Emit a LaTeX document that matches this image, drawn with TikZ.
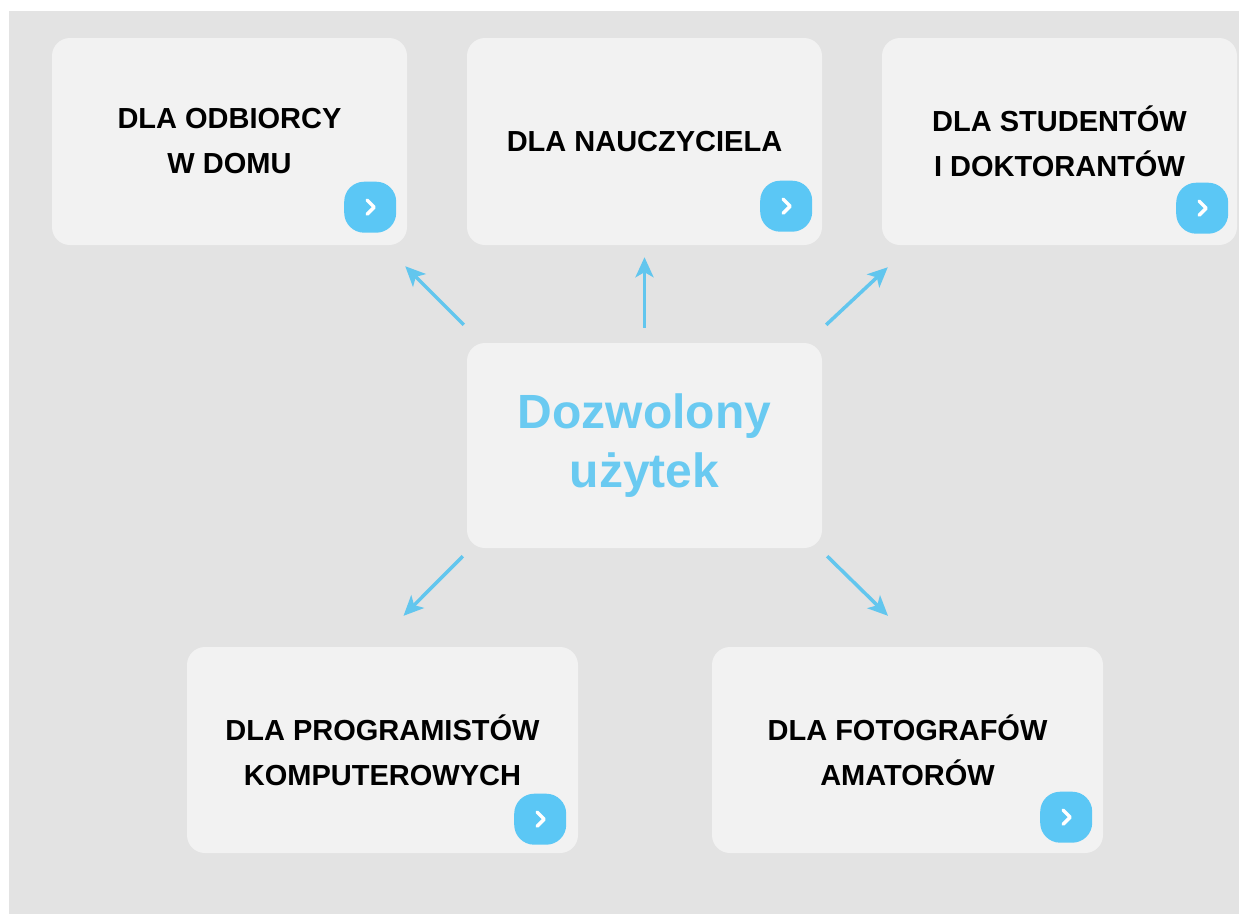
\documentclass[tikz,border=0pt]{standalone}
\usepackage{fontspec}
\setmainfont{Liberation Sans}
\newfontfamily\midfont{Liberation Sans}
\usetikzlibrary{arrows.meta,calc}

\definecolor{bggray}{HTML}{E3E3E3}
\definecolor{boxgray}{HTML}{F2F2F2}
\definecolor{skyblue}{HTML}{5BC7F5}
\definecolor{arrowblue}{HTML}{62C6EE}
\definecolor{textblue}{HTML}{6ACAF1}

\tikzset{
    card/.style={fill=boxgray, rounded corners=18pt, minimum width=355pt, minimum height=207pt,
        inner sep=0pt, align=center, font=\bfseries\fontsize{29}{45}\selectfont},
    widecard/.style={card, minimum width=391pt, minimum height=206pt},
    btn/.style={fill=skyblue, rounded corners=20pt, minimum width=52pt, minimum height=51pt, inner sep=0pt},
    chev/.style={white, line width=3.5pt, line cap=round, line join=round},
    link/.style={arrowblue, line width=3.5pt, -{Stealth[length=20pt,width=18pt,inset=5pt]}}
}

\newcommand{\drawchev}[1]{\draw[chev] ([shift={(-3,-7)}]#1.center) -- ([shift={(4,0)}]#1.center) -- ([shift={(-3,7)}]#1.center);}

\begin{document}
\begin{tikzpicture}[x=1pt, y=-1pt]
        \useasboundingbox (0,0) rectangle (1239,914);
        \fill[white] (0,0) rectangle (1239,914);
        \fill[bggray] (9,11) rectangle (1239,914);
        % cards
        \node[card] (odb) at (229.5,141.5) {DLA ODBIORCY\\W DOMU};
        \node[card] (nau) at (644.5,141.5) {DLA NAUCZYCIELA};
        \node[card] (stu) at (1059.5,141.5) {DLA STUDENTÓW\\I DOKTORANTÓW};
        \node[card, minimum height=205pt, text=textblue, font=\midfont\bfseries\fontsize{48}{59}\selectfont] (mid) at (644.5,445.5) {Dozwolony\\użytek};
        \node[widecard] (prog) at (382.5,750) {DLA PROGRAMISTÓW\\KOMPUTEROWYCH};
        \node[widecard] (foto) at (907.5,750) {DLA FOTOGRAFÓW\\AMATORÓW};
        % buttons
        \node[btn] (b_odb) at ([shift={(-37,-38)}]odb.south east) {};
        \node[btn] (b_nau) at ([shift={(-36,-39)}]nau.south east) {};
        \node[btn] (b_stu) at ([shift={(-35,-37)}]stu.south east) {};
        \node[btn] (b_prog) at ([shift={(-38,-34)}]prog.south east) {};
        \node[btn] (b_foto) at ([shift={(-37,-36)}]foto.south east) {};
        \drawchev{b_odb}
        \drawchev{b_nau}
        \drawchev{b_stu}
        \drawchev{b_prog}
        \drawchev{b_foto}
        % arrow ends
        \coordinate (t_odb) at ([shift={(-3,-18)}]mid.north west);
        \coordinate (h_odb) at ([shift={(-2,21)}]odb.south east);
        \coordinate (t_nau) at ([shift={(0,-15)}]mid.north);
        \coordinate (h_nau) at ([shift={(0,12)}]nau.south);
        \coordinate (t_stu) at ([shift={(4,-18)}]mid.north east);
        \coordinate (h_stu) at ([shift={(6,22)}]stu.south west);
        \coordinate (t_prog) at ([shift={(-4,8)}]mid.south west);
        \coordinate (h_prog) at ([shift={(21,-31)}]prog.north);
        \coordinate (t_foto) at ([shift={(5,8)}]mid.south east);
        \coordinate (h_foto) at ([shift={(-19.5,-31)}]foto.north);
        \draw[link] (t_odb) -- (h_odb);
        \draw[link] (t_nau) -- (h_nau);
        \draw[link] (t_stu) -- (h_stu);
        \draw[link] (t_prog) -- (h_prog);
        \draw[link] (t_foto) -- (h_foto);
    \end{tikzpicture}
\end{document}
